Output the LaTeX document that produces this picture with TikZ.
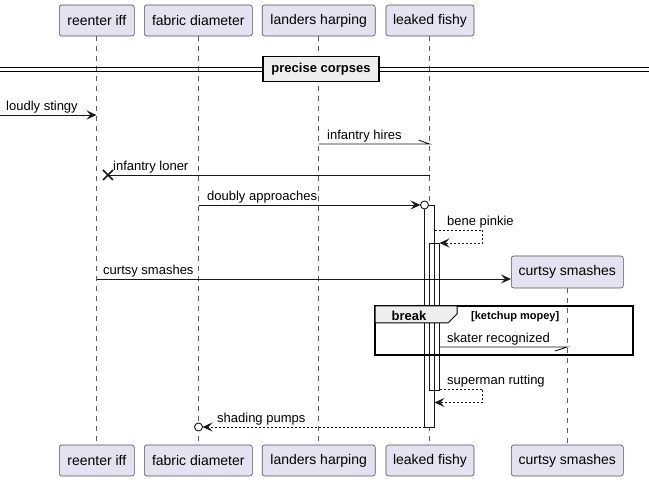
\documentclass[tikz,border=0pt]{standalone}
\usepackage{fontspec}
\setmainfont{Liberation Sans}
\usetikzlibrary{arrows.meta}
\definecolor{partfill}{HTML}{E2E2F0}
\definecolor{partline}{HTML}{181818}
\definecolor{grpfill}{HTML}{EEEEEE}
\begin{document}
\begin{tikzpicture}[x=1pt,y=-1pt,
 part/.style={draw=partline!75, fill=partfill, rounded corners=2.5pt, line width=0.6pt, inner sep=0pt, minimum height=31pt, font=\fontsize{14}{16}\selectfont},
 life/.style={draw=partline!70, line width=0.6pt, dash pattern=on 5pt off 5pt},
 msg/.style={line width=0.9pt, draw=partline},
 ret/.style={msg, dash pattern=on 2pt off 2pt},
 arr/.style={-{Stealth[length=10pt,width=9pt,inset=4pt]}},
 lbl/.style={font=\fontsize{13}{15}\selectfont, anchor=base west, inner sep=0pt},
 actline/.style={draw=partline, line width=0.9pt},
]
\useasboundingbox (0,0) rectangle (649,481);

% participants (top)
\node[part, minimum width=75pt]  (p1t) at (96.8,20.5)  {reenter iff};
\node[part, minimum width=108pt] (p2t) at (198.3,20.5) {fabric diameter};
\node[part, minimum width=113pt] (p3t) at (318.7,20.5) {landers harping};
\node[part, minimum width=88pt]  (p4t) at (430,20.5)   {leaked fishy};
% participants (bottom)
\node[part, minimum width=75pt]  (p1b) at (96.8,460.5)  {reenter iff};
\node[part, minimum width=108pt] (p2b) at (198.3,460.5) {fabric diameter};
\node[part, minimum width=113pt] (p3b) at (318.7,460.5) {landers harping};
\node[part, minimum width=88pt]  (p4b) at (430,460.5)   {leaked fishy};
\node[part, minimum width=112pt] (p5b) at (567.3,460.5) {curtsy smashes};
% created participant
\node[part, minimum width=112pt, minimum height=32pt] (p5t) at (567.3,272) {curtsy smashes};

% lifelines
\draw[life] (p1t.south -| 96.5,0) -- (p1b.north -| 96.5,0);
\draw[life] (p2t.south -| 198.5,0) -- (p2b.north -| 198.5,0);
\draw[life] (p3t.south -| 318.5,0) -- (p3b.north -| 318.5,0);
\draw[life] (p4t.south -| 429.5,0) -- (p4b.north -| 429.5,0);
\draw[life] (p5t.south -| 567.3,0) -- (p5b.north -| 567.3,0);

% divider
\draw[line width=1pt] (0,68) -- (649,68);
\draw[line width=1pt] (0,71.5) -- (649,71.5);
\node[draw=black, fill=grpfill, line width=1.5pt, minimum width=116pt, minimum height=25pt, inner sep=0pt,
      font=\bfseries\fontsize{13}{15}\selectfont] (div) at (321,69) {precise corpses};

% activation bars
\fill[white] (424.5,205) rectangle (434.5,427);
\fill[white] (429.5,243) rectangle (439.5,390);
\draw[actline] (424.5,205) rectangle (434.5,427);
\draw[actline] (429.5,243) rectangle (439.5,390);

% coordinates
\coordinate (m1s) at (0,115);      \coordinate (m1e) at (96.5,115);
\coordinate (m2s) at (318.5,144);  \coordinate (m2e) at (429.5,144);
\coordinate (m3s) at (429.5,175);  \coordinate (m3e) at (108,175);
\coordinate (m4s) at (198.5,205);  \coordinate (m4e) at (420.5,205); \coordinate (m4c) at (424.5,205);
\coordinate (m5s) at (434.5,230);  \coordinate (m5a) at (482.5,230); \coordinate (m5b) at (482.5,243); \coordinate (m5e) at (439.5,243);
\coordinate (m6s) at (96.5,279);
\coordinate (m8s) at (439.5,347);  \coordinate (m8e) at (567.3,347);
\coordinate (m9s) at (439.5,389);  \coordinate (m9a) at (482.5,389); \coordinate (m9b) at (482.5,402.5); \coordinate (m9e) at (434.5,402.5);
\coordinate (m10s) at (424.5,427); \coordinate (m10e) at (202.5,427); \coordinate (m10c) at (198.5,427);

% messages
\draw[msg, arr] (m1s) -- (m1e);
\node[lbl] at (6,111) {loudly stingy};

\draw[msg] (m2s) -- (m2e) -- (418.5,140);
\node[lbl] at (327,140) {infantry hires};

\draw[msg] (m3s) -- (m3e);
\draw[line width=1.5pt, draw=partline] (103,170) -- (113,180) (103,180) -- (113,170);
\node[lbl] at (113,171) {infantry loner};

\draw[msg, arr] (m4s) -- (m4e);
\draw[msg, fill=white] (m4c) circle (4pt);
\node[lbl] at (207,201) {doubly approaches};

\draw[ret, arr] (m5s) -- (m5a) -- (m5b) -- (m5e);
\node[lbl] at (447,226) {bene pinkie};

\draw[msg, arr] (m6s) -- (p5t.west |- m6s);
\node[lbl] at (103,275) {curtsy smashes};

% break group
\draw[line width=1.5pt] (375,306) rectangle (633,355);
\draw[line width=1pt, fill=grpfill] (375,306) -- (457,306) -- (457,314) -- (448,323) -- (375,323) -- cycle;
\node[font=\bfseries\fontsize{13}{15}\selectfont, inner sep=0pt] (brk) at (409,316) {break};
\node[font=\bfseries\fontsize{11}{13}\selectfont, inner sep=0pt, anchor=west] (cond) at (471,316.5) {[ketchup mopey]};

\draw[msg] (m8s) -- (m8e) -- (555,351);
\node[lbl] at (447,343) {skater recognized};

\draw[ret, arr] (m9s) -- (m9a) -- (m9b) -- (m9e);
\node[lbl] at (447,385) {superman rutting};

\draw[ret, arr] (m10s) -- (m10e);
\draw[msg, fill=white] (m10c) circle (4pt);
\node[lbl] at (217,423) {shading pumps};
\end{tikzpicture}
\end{document}
